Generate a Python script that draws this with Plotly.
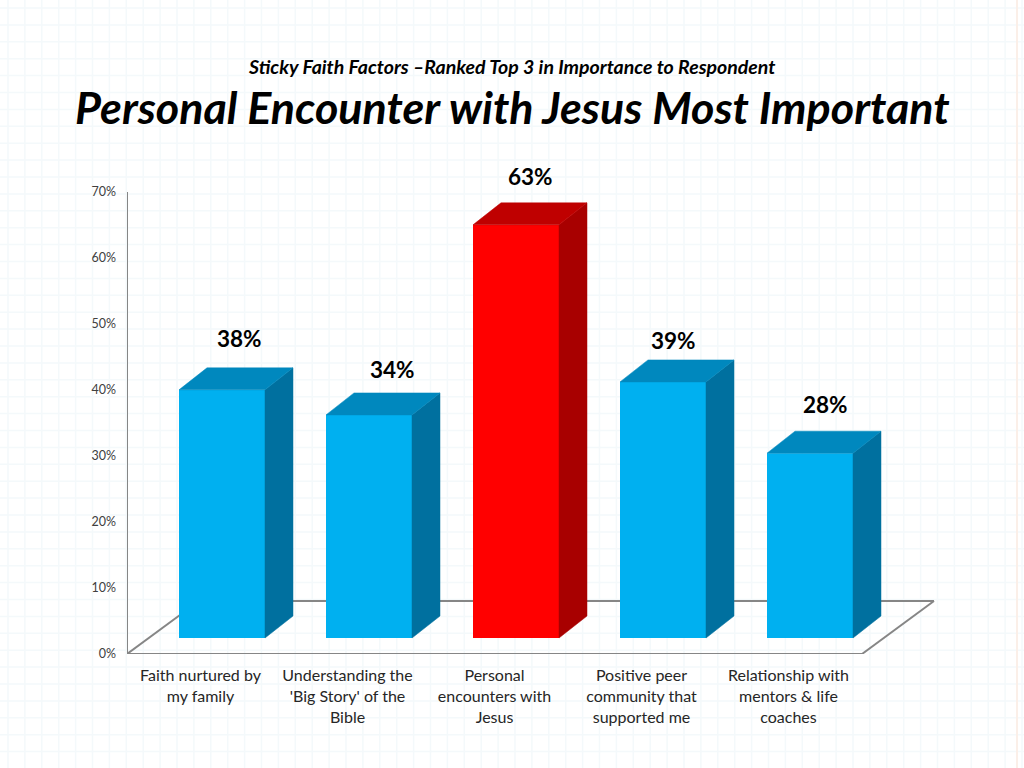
import plotly.graph_objects as go

# ---- data ----
categories = ["Faith nurtured by<br>my family",
              "Understanding the<br>'Big Story' of the<br>Bible",
              "Personal<br>encounters with<br>Jesus",
              "Positive peer<br>community that<br>supported me",
              "Relationship with<br>mentors & life<br>coaches"]
bar_heights = [37.6, 33.8, 62.6, 38.8, 28.0]
value_labels = ["38%", "34%", "63%", "39%", "28%"]
tick_values = [0, 10, 20, 30, 40, 50, 60, 70]
tick_labels = ["0%", "10%", "20%", "30%", "40%", "50%", "60%", "70%"]

# ---- styling and projection ----
W, H = 1024, 768
L, T, B = 127, 192, 114
UX = 147.0             # px per category
R = 82                 # room kept for the floor's receding corner
PW, PH = W - L - R, H - T - B
UY = PH / 70.0         # px per percent
DX, DY = 28 / UX, 22 / UY          # bar depth
FX, FY = 72 / UX, 53 / UY          # floor depth
BASE = 16 / UY
OFF = 21.5 / UX
HALF = 43 / UX
BLUE = ("#00B0F0", "#00709F", "#0088BE")
RED = ("#FF0000", "#A80000", "#BF0000")
FONT = "Lato, Carlito, 'Open Sans', sans-serif"
label_nudge = [(3, 14), (9, 8), (0, 11), (-4, 4), (1, 11)]
xl, xr = -0.5, 4.5
x_view = xl + PW / UX


def px(x):
    return (x - L) / PW


def py(y):
    return (H - B - y) / PH


fig = go.Figure()

for i, h in enumerate(bar_heights):
    c = RED if i == 2 else BLUE
    x0, x1 = i + OFF - HALF, i + OFF + HALF
    top = BASE + h
    fig.add_trace(go.Bar(x=[i], y=[h], base=[BASE], width=[2 * HALF], offset=[OFF - HALF],
                         marker=dict(color=c[0], line=dict(width=0)), showlegend=False,
                         hoverinfo="skip"))
    fig.add_trace(go.Scatter(x=[x1, x1 + DX, x1 + DX, x1, x1], y=[BASE, BASE + DY, top + DY, top, BASE],
                             mode="lines", fill="toself", fillcolor=c[1], line=dict(color=c[1], width=0.5),
                             showlegend=False, hoverinfo="skip"))
    fig.add_trace(go.Scatter(x=[x0, x1, x1 + DX, x0 + DX, x0], y=[top, top, top + DY, top + DY, top],
                             mode="lines", fill="toself", fillcolor=c[2], line=dict(color=c[2], width=0.5),
                             showlegend=False, hoverinfo="skip"))

annotations = []
for i, h in enumerate(bar_heights):
    nx, ny = label_nudge[i]
    annotations.append(dict(x=i + OFF + DX / 2, y=BASE + h + DY, text=f"<b>{value_labels[i]}</b>",
                            xref="x", yref="y", showarrow=False, yanchor="bottom",
                            xshift=nx, yshift=ny, font=dict(family=FONT, size=22.5, color="#000000")))
annotations.append(dict(x=px(511), y=py(67), xref="paper", yref="paper", showarrow=False,
                        xanchor="center", yanchor="middle",
                        text="<b><i>Sticky Faith Factors –Ranked Top 3 in Importance to Respondent</i></b>",
                        font=dict(family=FONT, size=19.5, color="#000000")))
annotations.append(dict(x=px(512), y=py(107), xref="paper", yref="paper", showarrow=False,
                        xanchor="center", yanchor="middle",
                        text="<b><i>Personal Encounter with Jesus Most Important</i></b>",
                        font=dict(family=FONT, size=44.8, color="#000000")))

# ---- page grid and floor, drawn beneath the marks ----
shapes = []
grid = ""
x = 8
while x < W:
    grid += f"M{px(x):.5f},{py(0):.5f}L{px(x):.5f},{py(H):.5f}"
    x += 16.9
y = 8
while y < H:
    grid += f"M{px(0):.5f},{py(y):.5f}L{px(W):.5f},{py(y):.5f}"
    y += 16.9
shapes.append(dict(type="path", path=grid, xref="paper", yref="paper", layer="below",
                   line=dict(color="#F4F9FB", width=1.5)))
shapes.append(dict(type="line", xref="paper", yref="paper", layer="below",
                   x0=px(1017), x1=px(1017), y0=py(0), y1=py(H), line=dict(color="#FBEFE8", width=2)))
GREY = "#868686"
for (ax, ay, bx, by) in [(xl, 0, xl, 70), (xl, 0, xr, 0), (xl, 0, xl + FX, FY),
                         (xl + FX, FY, xr + FX, FY), (xr, 0, xr + FX, FY)]:
    shapes.append(dict(type="line", xref="x", yref="y", layer="below", x0=ax, y0=ay, x1=bx, y1=by,
                       line=dict(color=GREY, width=2)))

fig.update_layout(
    width=W, height=H, autosize=False,
    margin=dict(l=L, r=R, t=T, b=B, pad=0),
    paper_bgcolor="#FFFFFF", plot_bgcolor="rgba(0,0,0,0)",
    barmode="overlay", showlegend=False,
    font=dict(family=FONT, color="#404040"),
    shapes=shapes, annotations=annotations,
    xaxis=dict(range=[xl, x_view], tickmode="array", tickvals=list(range(5)), ticktext=categories,
               showgrid=False, zeroline=False, showline=False,
               ticks="", ticklabelstandoff=10, tickangle=0,
               tickfont=dict(family=FONT, size=16, color="#262626")),
    yaxis=dict(range=[0, 70], tickmode="array", tickvals=tick_values, ticktext=tick_labels,
               showgrid=False, zeroline=False, showline=False,
               ticks="", ticklabelstandoff=10,
               tickfont=dict(family=FONT, size=12.5, color="#404040")),
)

fig.write_html("out.html", config=dict(displayModeBar=False),
               post_script="document.body.style.margin='0';document.body.style.overflow='hidden';")
